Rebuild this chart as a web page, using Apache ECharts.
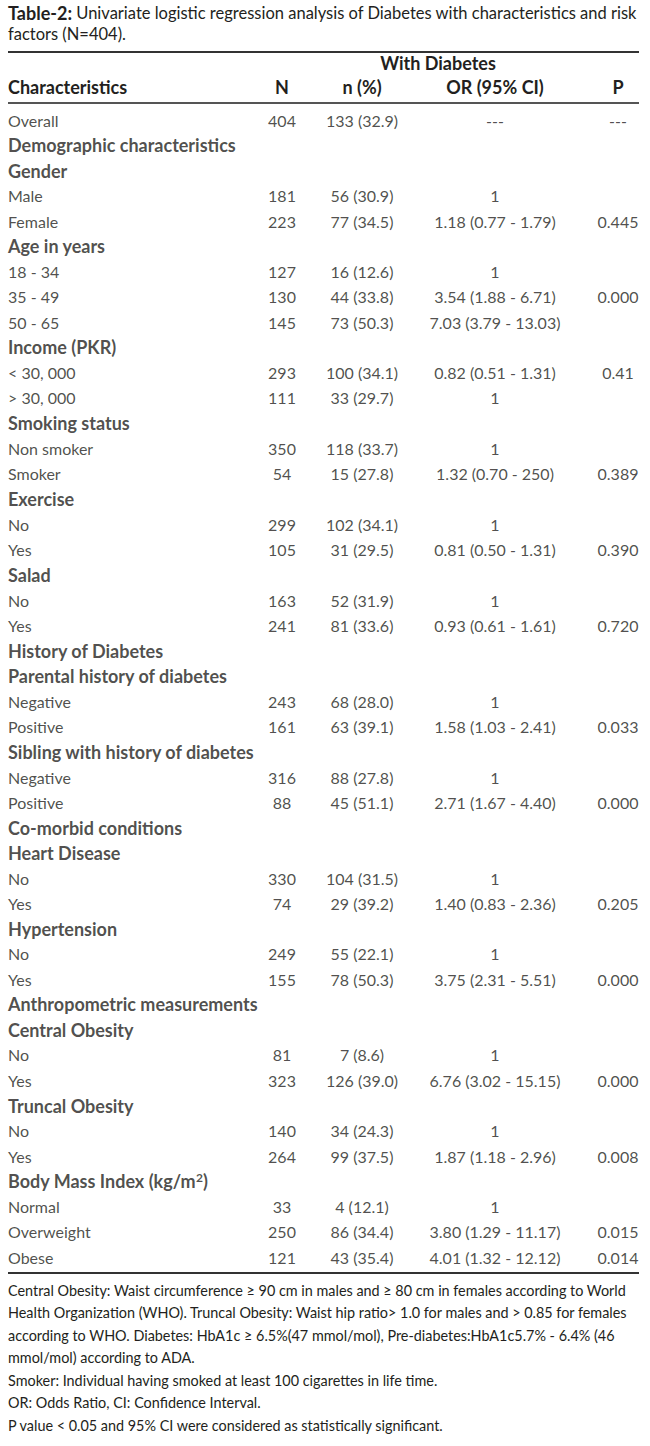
<!DOCTYPE html>
<html lang="en">
<head>
<meta charset="utf-8">
<title>Table-2 Univariate logistic regression</title>
<script src="https://cdn.jsdelivr.net/npm/echarts@6/dist/echarts.min.js"></script>
<style>
  html, body { margin: 0; padding: 0; background: #fff; }
  #main { width: 650px; height: 1446px; }
</style>
</head>
<body>
<div id="main"></div>
<script>
// rows of the table, top to bottom (rows with no N are the bold headings)
var characteristics = [
  'Overall', 'Demographic characteristics', 'Gender', 'Male', 'Female',
  'Age in years', '18 - 34', '35 - 49', '50 - 65',
  'Income (PKR)', '< 30, 000', '> 30, 000',
  'Smoking status', 'Non smoker', 'Smoker',
  'Exercise', 'No', 'Yes',
  'Salad', 'No', 'Yes',
  'History of Diabetes', 'Parental history of diabetes', 'Negative', 'Positive',
  'Sibling with history of diabetes', 'Negative', 'Positive',
  'Co-morbid conditions', 'Heart Disease', 'No', 'Yes',
  'Hypertension', 'No', 'Yes',
  'Anthropometric measurements', 'Central Obesity', 'No', 'Yes',
  'Truncal Obesity', 'No', 'Yes',
  'Body Mass Index (kg/m²)', 'Normal', 'Overweight', 'Obese'
];
var nTotal = [
  404, null, null, 181, 223,
  null, 127, 130, 145,
  null, 293, 111,
  null, 350, 54,
  null, 299, 105,
  null, 163, 241,
  null, null, 243, 161,
  null, 316, 88,
  null, null, 330, 74,
  null, 249, 155,
  null, null, 81, 323,
  null, 140, 264,
  null, 33, 250, 121
];
var nDiabetes = [
  133, null, null, 56, 77,
  null, 16, 44, 73,
  null, 100, 33,
  null, 118, 15,
  null, 102, 31,
  null, 52, 81,
  null, null, 68, 63,
  null, 88, 45,
  null, null, 104, 29,
  null, 55, 78,
  null, null, 7, 126,
  null, 34, 99,
  null, 4, 86, 43
];
var pctDiabetes = [
  32.9, null, null, 30.9, 34.5,
  null, 12.6, 33.8, 50.3,
  null, 34.1, 29.7,
  null, 33.7, 27.8,
  null, 34.1, 29.5,
  null, 31.9, 33.6,
  null, null, 28.0, 39.1,
  null, 27.8, 51.1,
  null, null, 31.5, 39.2,
  null, 22.1, 50.3,
  null, null, 8.6, 39.0,
  null, 24.3, 37.5,
  null, 12.1, 34.4, 35.4
];
var orCI = [
  '---', '', '', '1', '1.18 (0.77 - 1.79)',
  '', '1', '3.54 (1.88 - 6.71)', '7.03 (3.79 - 13.03)',
  '', '0.82 (0.51 - 1.31)', '1',
  '', '1', '1.32 (0.70 - 250)',
  '', '1', '0.81 (0.50 - 1.31)',
  '', '1', '0.93 (0.61 - 1.61)',
  '', '', '1', '1.58 (1.03 - 2.41)',
  '', '1', '2.71 (1.67 - 4.40)',
  '', '', '1', '1.40 (0.83 - 2.36)',
  '', '1', '3.75 (2.31 - 5.51)',
  '', '', '1', '6.76 (3.02 - 15.15)',
  '', '1', '1.87 (1.18 - 2.96)',
  '', '1', '3.80 (1.29 - 11.17)', '4.01 (1.32 - 12.12)'
];
var pValue = [
  '---', '', '', '', '0.445',
  '', '', '0.000', '',
  '', '0.41', '',
  '', '', '0.389',
  '', '', '0.390',
  '', '', '0.720',
  '', '', '', '0.033',
  '', '', '0.000',
  '', '', '', '0.205',
  '', '', '0.000',
  '', '', '', '0.000',
  '', '', '0.008',
  '', '', '0.015', '0.014'
];
var spanHeader = 'With Diabetes';
var columnHeaders = ['Characteristics', 'N', 'n (%)', 'OR (95% CI)', 'P'];
var footnotes = [
  'Central Obesity: Waist circumference ≥ 90 cm in males and ≥ 80 cm in females according to World',
  'Health Organization (WHO). Truncal Obesity: Waist hip ratio> 1.0 for males and > 0.85 for females',
  'according to WHO. Diabetes: HbA1c ≥ 6.5%(47 mmol/mol), Pre-diabetes:HbA1c5.7% - 6.4% (46',
  'mmol/mol) according to ADA.',
  'Smoker: Individual having smoked at least 100 cigarettes in life time.',
  'OR: Odds Ratio, CI: Confidence Interval.',
  'P value < 0.05 and 95% CI were considered as statistically significant.'
];

var FONT = 'Lato, "Noto Sans", sans-serif';
var INK = '#231f20';
var colX = [8, 282, 362, 495, 618];   // left edge of col 0, centers of the others
var rowTop = 120, rowH = 25.27;

var myChart = echarts.init(document.getElementById('main'), null, { renderer: 'svg' });

// one scatter series per column, text hung on invisible points
function column(name, x, texts, align) {
  var data = [];
  texts.forEach(function (t, i) {
    if (t !== '' && t !== null) data.push({ value: [x, i], name: String(t) });
  });
  return {
    name: name,
    type: 'scatter',
    symbolSize: 0,
    silent: true,
    data: data,
    label: {
      show: true,
      position: align === 'left' ? 'right' : 'inside',
      distance: 0,
      color: INK,
      fontFamily: FONT,
      fontSize: 16,
      formatter: function (p) {
        if (align !== 'left' || nTotal[p.value[1]] !== null) return p.name;
        var parts = p.name.split('²');
        if (parts.length > 1) return '{b|' + parts[0] + '}{sup|2}{b|' + parts[1] + '}';
        return '{b|' + p.name + '}';
      },
      rich: {
        b: { fontFamily: FONT, fontSize: 18, fontWeight: 'bold', color: INK, lineHeight: 20 },
        sup: { fontFamily: FONT, fontSize: 12, fontWeight: 'bold', color: INK, lineHeight: 10, verticalAlign: 'top' }
      }
    }
  };
}

var nPct = nDiabetes.map(function (n, i) {
  return n === null ? '' : n + ' (' + pctDiabetes[i].toFixed(1) + ')';
});

var graphic = [
  { type: 'line', shape: { x1: 8, y1: 52, x2: 639, y2: 52 }, style: { stroke: '#333', lineWidth: 2.2 } },
  { type: 'line', shape: { x1: 8, y1: 103, x2: 639, y2: 103 }, style: { stroke: '#555', lineWidth: 1.8 } },
  { type: 'line', shape: { x1: 8, y1: 1273, x2: 639, y2: 1273 }, style: { stroke: '#333', lineWidth: 2.2 } },
  { type: 'text', x: 438, y: 63, style: { text: spanHeader, fill: INK, font: 'bold 18px ' + FONT, align: 'center', verticalAlign: 'middle' } }
];
columnHeaders.forEach(function (h, k) {
  graphic.push({
    type: 'text', x: colX[k], y: 87,
    style: { text: h, fill: INK, font: 'bold 18px ' + FONT, align: k === 0 ? 'left' : 'center', verticalAlign: 'middle' }
  });
});
footnotes.forEach(function (f, k) {
  graphic.push({
    type: 'text', x: 8, y: 1290 + k * 22.5,
    style: { text: f, fill: INK, font: '14.4px ' + FONT, align: 'left', verticalAlign: 'middle' }
  });
});

var option = {
  backgroundColor: '#fff',
  animation: false,
  title: {
    left: 8,
    top: 2,
    padding: 0,
    text: '{b|Table-2:} Univariate logistic regression analysis of Diabetes with characteristics and risk\nfactors (N=404).',
    textStyle: {
      fontFamily: FONT, fontSize: 16.5, fontWeight: 'normal', color: INK, lineHeight: 21,
      rich: { b: { fontFamily: FONT, fontSize: 18, fontWeight: 'bold', color: INK, lineHeight: 21 } }
    }
  },
  grid: { left: 0, right: 0, top: rowTop - rowH / 2, height: rowH * characteristics.length },
  xAxis: { type: 'value', min: 0, max: 650, show: false },
  yAxis: { type: 'value', min: -0.5, max: characteristics.length - 0.5, inverse: true, show: false },
  graphic: graphic,
  series: [
    column('Characteristics', colX[0], characteristics, 'left'),
    column('N', colX[1], nTotal, 'center'),
    column('n (%)', colX[2], nPct, 'center'),
    column('OR (95% CI)', colX[3], orCI, 'center'),
    column('P', colX[4], pValue, 'center')
  ]
};

myChart.setOption(option);
</script>
</body>
</html>
